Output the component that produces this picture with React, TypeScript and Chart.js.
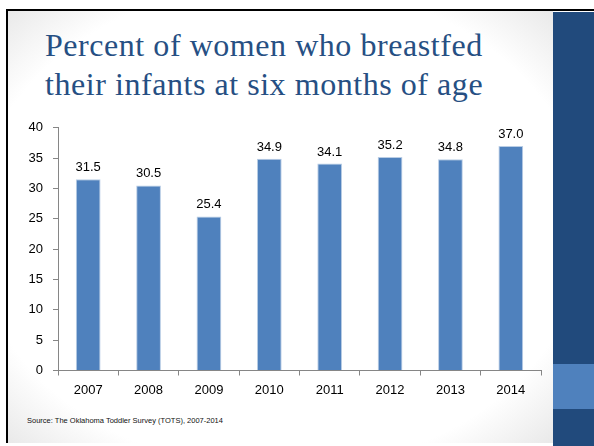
import React, { useEffect, useRef } from "react";
import { Chart, registerables } from "chart.js";

Chart.register(...registerables);

const years = ["2007", "2008", "2009", "2010", "2011", "2012", "2013", "2014"];
const percentBreastfed = [31.5, 30.5, 25.4, 34.9, 34.1, 35.2, 34.8, 37.0];
const yMin = 0;
const yMax = 40;
const yStep = 5;
const titleLines = ["Percent of women who breastfed", "their infants at six months of age"];
const sourceText = "Source: The Oklahoma Toddler Survey (TOTS), 2007-2014";

const labelFont = "'Liberation Sans', Arial, sans-serif";

const dataLabelPlugin = {
  id: "dataLabels",
  afterDatasetsDraw(chart: any) {
    const ctx = chart.ctx;
    const meta = chart.getDatasetMeta(0);
    const data = chart.data.datasets[0].data as number[];
    ctx.save();
    ctx.fillStyle = "#000";
    ctx.font = `13px ${labelFont}`;
    ctx.textAlign = "center";
    ctx.textBaseline = "alphabetic";
    meta.data.forEach((bar: any, i: number) => {
      ctx.fillText(data[i].toFixed(1), bar.x, bar.y - 8);
    });
    ctx.restore();
  },
};

function BarChart() {
  const ref = useRef<HTMLCanvasElement>(null);
  useEffect(() => {
    if (!ref.current) return;
    const chart = new Chart(ref.current, {
      type: "bar",
      data: {
        labels: years,
        datasets: [
          {
            data: percentBreastfed,
            backgroundColor: "#4F81BD",
            borderColor: "#B9CDE5",
            borderWidth: 1,
            categoryPercentage: 1,
            barPercentage: 0.41,
          },
        ],
      },
      options: {
        animation: false,
        responsive: false,
        maintainAspectRatio: false,
        layout: { padding: { left: 0, right: 19, top: 16, bottom: 0 } },
        plugins: { legend: { display: false }, tooltip: { enabled: false } },
        scales: {
          x: {
            grid: { display: true, drawOnChartArea: false, color: "#868686", tickLength: 5, offset: true },
            border: { display: true, color: "#868686" },
            ticks: { color: "#000", font: { family: labelFont, size: 13 }, padding: 7 },
            afterFit: (s: any) => { s.height = 29.5; },
          },
          y: {
            min: yMin,
            max: yMax,
            grid: { display: true, drawOnChartArea: false, color: "#868686", tickLength: 5 },
            border: { display: true, color: "#868686" },
            ticks: { stepSize: yStep, color: "#000", font: { family: labelFont, size: 13 }, padding: 10 },
            afterFit: (s: any) => { s.width = 58; },
          },
        },
      },
      plugins: [dataLabelPlugin],
    });
    return () => chart.destroy();
  }, []);
  return (
    <canvas
      ref={ref}
      width={560}
      height={290}
      style={{ position: "absolute", left: 0, top: 110, width: 560, height: 290 }}
    />
  );
}

export default function App() {
  return (
    <div style={{ position: "fixed", left: 0, top: 0, width: 594, height: 446, background: "#fff", overflow: "hidden" }}>
      <div
        style={{
          position: "absolute",
          left: 7,
          top: 10,
          width: 546,
          height: 433,
          background: "radial-gradient(ellipse 75% 75% at 50% 50%, #ffffff 75%, #e2e2e2 100%)",
        }}
      />
      <div style={{ position: "absolute", left: 6, top: 9, width: 588, height: 2, background: "#000" }} />
      <div style={{ position: "absolute", left: 6, top: 9, width: 2, height: 434, background: "#000" }} />
      <div style={{ position: "absolute", left: 553, top: 12, width: 41, height: 434, background: "#214A7C" }} />
      <div style={{ position: "absolute", left: 553, top: 364, width: 41, height: 45, background: "#4F81BD" }} />
      <div
        style={{
          position: "absolute",
          left: 45,
          top: 26,
          fontFamily: "'Liberation Serif', 'Times New Roman', serif",
          fontSize: 32,
          lineHeight: "39px",
          color: "#264F83",
          whiteSpace: "nowrap",
          letterSpacing: 0.55,
        }}
      >
        {titleLines.map((l) => (
          <div key={l}>{l}</div>
        ))}
      </div>
      <BarChart />
      <div
        style={{
          position: "absolute",
          left: 27,
          top: 416,
          fontFamily: labelFont,
          fontSize: 7.5,
          color: "#111",
          whiteSpace: "nowrap",
          letterSpacing: 0,
        }}
      >
        {sourceText}
      </div>
    </div>
  );
}
